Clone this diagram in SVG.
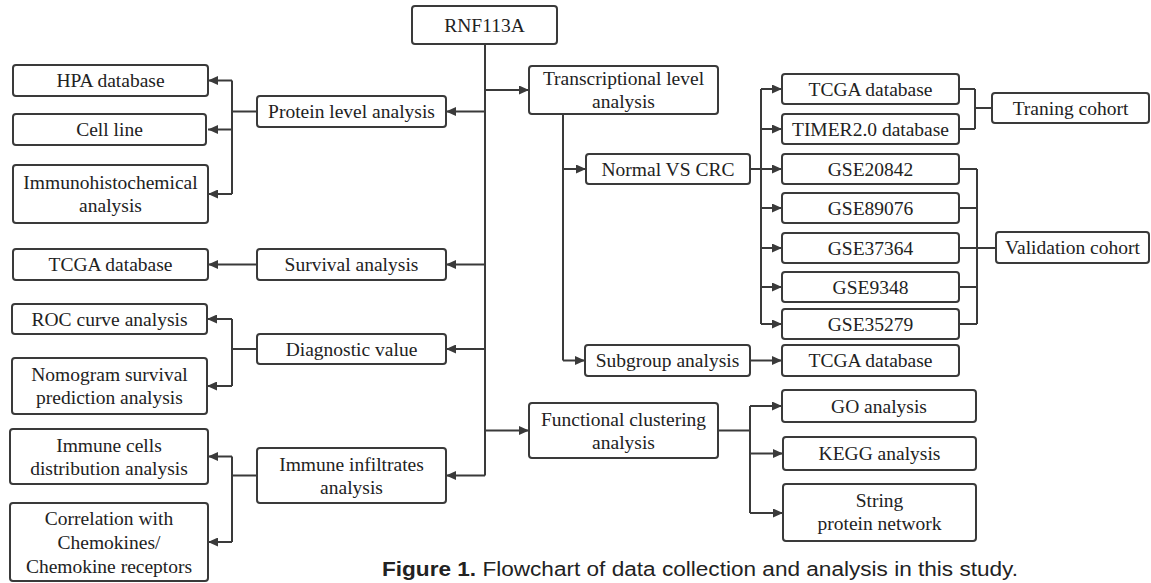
<svg xmlns="http://www.w3.org/2000/svg" width="1151" height="583" viewBox="0 0 1151 583">
<style>
.b{fill:#fff;stroke:#3a3a3a;stroke-width:2}
.t{font-family:"Liberation Serif","Times New Roman",serif;font-size:19.5px;fill:#222;text-anchor:middle}
.c{fill:none;stroke:#3a3a3a;stroke-width:2}
.a{fill:none;stroke:#3a3a3a;stroke-width:2;marker-end:url(#ah)}
.cap{font-family:"Liberation Sans",Arial,sans-serif;font-size:20px;fill:#222}
</style>
<defs>
<marker id="ah" markerUnits="userSpaceOnUse" markerWidth="11" markerHeight="9" refX="10" refY="4.5" orient="auto">
<path d="M0,0 L10,4.5 L0,9 z" fill="#3a3a3a"/>
</marker>
</defs>
<rect width="1151" height="583" fill="#fff"/>
<g id="connectors">
<path class="c" d="M485 44 V475.5"/>
<path class="a" d="M485 90 H529"/>
<path class="a" d="M485 111.5 H446"/>
<path class="a" d="M485 264.5 H446"/>
<path class="a" d="M485 349 H446"/>
<path class="a" d="M485 475.5 H446"/>
<path class="a" d="M485 430.5 H529"/>
<path class="c" d="M257 111.5 H232 M232 80.5 V194"/>
<path class="a" d="M232 80.5 H208"/>
<path class="a" d="M232 129.5 H208"/>
<path class="a" d="M232 194 H208"/>
<path class="a" d="M257 264.5 H208"/>
<path class="c" d="M257 349 H232 M232 319 V386"/>
<path class="a" d="M232 319 H207"/>
<path class="a" d="M232 386 H207"/>
<path class="c" d="M257 475.5 H232 M232 456.5 V542"/>
<path class="a" d="M232 456.5 H208"/>
<path class="a" d="M232 542 H208"/>
<path class="c" d="M563 114 V360.5"/>
<path class="a" d="M563 169 H586"/>
<path class="a" d="M563 360.5 H585"/>
<path class="c" d="M750 169 H761 M761 89 V324"/>
<path class="a" d="M761 89 H782"/>
<path class="a" d="M761 129 H782"/>
<path class="a" d="M761 169 H782"/>
<path class="a" d="M761 208 H782"/>
<path class="a" d="M761 248 H782"/>
<path class="a" d="M761 287 H782"/>
<path class="a" d="M761 324 H782"/>
<path class="a" d="M750 360.5 H782"/>
<path class="c" d="M959 89 H975 M959 129 H975 M975 89 V129 M975 108 H992"/>
<path class="c" d="M959 169 H977 M959 208 H977 M959 248 H977 M959 287 H977 M959 324 H977 M977 169 V324 M977 248 H996"/>
<path class="c" d="M718 430.5 H750 M750 406 V513"/>
<path class="a" d="M750 406 H782"/>
<path class="a" d="M750 453.5 H783"/>
<path class="a" d="M750 513 H783"/>
</g>
<g id="n-rnf113a"><rect class="b" x="412" y="6" width="145" height="38" rx="3"/><text class="t" x="484.5" y="31.5">RNF113A</text></g>
<g id="n-transcriptional"><rect class="b" x="529" y="66" width="189" height="48" rx="3"/><text class="t" x="623.5" y="85">Transcriptional level</text><text class="t" x="623.5" y="108">analysis</text></g>
<g id="n-protein"><rect class="b" x="257" y="96" width="189" height="31" rx="3"/><text class="t" x="351.5" y="118">Protein level analysis</text></g>
<g id="n-hpa"><rect class="b" x="13" y="65" width="195" height="31" rx="3"/><text class="t" x="110.5" y="87">HPA database</text></g>
<g id="n-cellline"><rect class="b" x="13" y="114" width="193" height="31" rx="3"/><text class="t" x="109.5" y="136">Cell line</text></g>
<g id="n-ihc"><rect class="b" x="13" y="165" width="195" height="58" rx="3"/><text class="t" x="110.5" y="189">Immunohistochemical</text><text class="t" x="110.5" y="212">analysis</text></g>
<g id="n-tcga-surv"><rect class="b" x="13" y="249" width="195" height="31" rx="3"/><text class="t" x="110.5" y="271">TCGA database</text></g>
<g id="n-survival"><rect class="b" x="257" y="249" width="189" height="31" rx="3"/><text class="t" x="351.5" y="271">Survival analysis</text></g>
<g id="n-roc"><rect class="b" x="12" y="304" width="195" height="30" rx="3"/><text class="t" x="109.5" y="325.5">ROC curve analysis</text></g>
<g id="n-nomogram"><rect class="b" x="12" y="358" width="195" height="56" rx="3"/><text class="t" x="109.5" y="381">Nomogram survival</text><text class="t" x="109.5" y="404">prediction analysis</text></g>
<g id="n-diagnostic"><rect class="b" x="257" y="334" width="189" height="30" rx="3"/><text class="t" x="351.5" y="355.5">Diagnostic value</text></g>
<g id="n-immunecells"><rect class="b" x="10" y="429" width="198" height="55" rx="3"/><text class="t" x="109" y="451.5">Immune cells</text><text class="t" x="109" y="474.5">distribution analysis</text></g>
<g id="n-correlation"><rect class="b" x="10" y="503" width="198" height="78" rx="3"/><text class="t" x="109" y="525">Correlation with</text><text class="t" x="109" y="549">Chemokines/</text><text class="t" x="109" y="573">Chemokine receptors</text></g>
<g id="n-immuneinf"><rect class="b" x="257" y="448" width="189" height="55" rx="3"/><text class="t" x="351.5" y="470.5">Immune infiltrates</text><text class="t" x="351.5" y="493.5">analysis</text></g>
<g id="n-normal"><rect class="b" x="586" y="154" width="164" height="30" rx="3"/><text class="t" x="668" y="175.5">Normal VS CRC</text></g>
<g id="n-subgroup"><rect class="b" x="585" y="345" width="165" height="31" rx="3"/><text class="t" x="667.5" y="367">Subgroup analysis</text></g>
<g id="n-tcga-train"><rect class="b" x="782" y="74" width="177" height="30" rx="3"/><text class="t" x="870.5" y="95.5">TCGA database</text></g>
<g id="n-timer"><rect class="b" x="782" y="114" width="177" height="30" rx="3"/><text class="t" x="870.5" y="135.5">TIMER2.0 database</text></g>
<g id="n-gse20842"><rect class="b" x="782" y="154" width="177" height="30" rx="3"/><text class="t" x="870.5" y="175.5">GSE20842</text></g>
<g id="n-gse89076"><rect class="b" x="782" y="193" width="177" height="30" rx="3"/><text class="t" x="870.5" y="214.5">GSE89076</text></g>
<g id="n-gse37364"><rect class="b" x="782" y="233" width="177" height="30" rx="3"/><text class="t" x="870.5" y="254.5">GSE37364</text></g>
<g id="n-gse9348"><rect class="b" x="782" y="272" width="177" height="30" rx="3"/><text class="t" x="870.5" y="293.5">GSE9348</text></g>
<g id="n-gse35279"><rect class="b" x="782" y="309" width="177" height="30" rx="3"/><text class="t" x="870.5" y="330.5">GSE35279</text></g>
<g id="n-tcga-sub"><rect class="b" x="782" y="345" width="177" height="31" rx="3"/><text class="t" x="870.5" y="367">TCGA database</text></g>
<g id="n-training"><rect class="b" x="992" y="93" width="157" height="30" rx="3"/><text class="t" x="1070.5" y="114.5">Traning cohort</text></g>
<g id="n-validation"><rect class="b" x="996" y="232" width="153" height="31" rx="3"/><text class="t" x="1072.5" y="254">Validation cohort</text></g>
<g id="n-functional"><rect class="b" x="529" y="403" width="189" height="55" rx="3"/><text class="t" x="623.5" y="425.5">Functional clustering</text><text class="t" x="623.5" y="448.5">analysis</text></g>
<g id="n-go"><rect class="b" x="782" y="390" width="194" height="32" rx="3"/><text class="t" x="879" y="412.5">GO analysis</text></g>
<g id="n-kegg"><rect class="b" x="783" y="437" width="193" height="33" rx="3"/><text class="t" x="879.5" y="460">KEGG analysis</text></g>
<g id="n-string"><rect class="b" x="783" y="484" width="193" height="57" rx="3"/><text class="t" x="879.5" y="507">String</text><text class="t" x="879.5" y="530">protein network</text></g>
<text class="cap" x="382" y="576" textLength="636" lengthAdjust="spacingAndGlyphs"><tspan font-weight="bold">Figure 1.</tspan> Flowchart of data collection and analysis in this study.</text>
</svg>
